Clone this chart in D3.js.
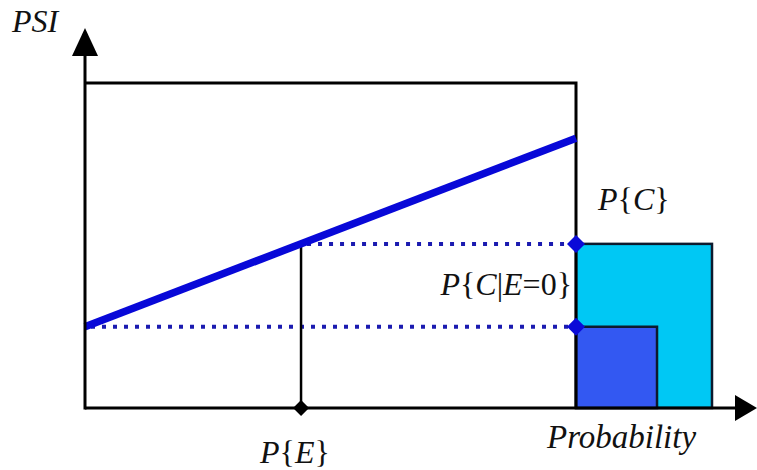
<!DOCTYPE html>
<html>
<head>
<meta charset="utf-8">
<script src="https://cdn.jsdelivr.net/npm/d3@7"></script>
<style>
  html, body { margin: 0; padding: 0; background: #fff; }
  svg { display: block; }
</style>
</head>
<body>
<svg id="chart" width="757" height="470"></svg>
<script>
// PSI as a linear function of the exposure probability P{E}
const lineProb = [0, 1];
const linePSI = [0.25, 0.83];

// marked probabilities
const pE = 0.44;          // P{E}
const pC = 0.505;         // P{C}  (PSI at P{E})
const pCgivenE0 = 0.25;   // P{C|E=0} (PSI at P{E}=0)

// probability bars drawn beside the plot box
const barNames = ["P{C}", "P{C|E=0}"];
const barHeights = [pC, pCgivenE0];
const barWidths = [0.277, 0.165];
const barColors = ["#00c8f4", "#3358f2"];

const serif = "'Liberation Serif', 'Times New Roman', Times, serif";

const svg = d3.select("#chart");

const x = d3.scaleLinear().domain([0, 1]).range([85, 576]);
const y = d3.scaleLinear().domain([0, 1]).range([408, 83]);

// bars (largest first so the smaller one sits on top)
svg.selectAll("rect.bar")
  .data(barNames.map((n, i) => ({ name: n, h: barHeights[i], w: barWidths[i], c: barColors[i] })))
  .join("rect")
  .attr("class", "bar")
  .attr("x", x(1))
  .attr("y", d => y(d.h))
  .attr("width", d => x(d.w) - x(0))
  .attr("height", d => y(0) - y(d.h))
  .attr("fill", d => d.c)
  .attr("stroke", "#0d1a2e")
  .attr("stroke-width", 2.5);

// plot box: top and right edges
svg.append("path")
  .attr("d", `M${x(0)},${y(1)} H${x(1)} V${y(0)}`)
  .attr("fill", "none")
  .attr("stroke", "#000")
  .attr("stroke-width", 3);

// dotted guides from the PSI line to the right edge
const dotted = [
  { from: pE, level: pC },
  { from: 0, level: pCgivenE0 }
];
svg.selectAll("line.guide")
  .data(dotted)
  .join("line")
  .attr("class", "guide")
  .attr("x1", d => x(d.from) + 6)
  .attr("x2", x(1))
  .attr("y1", d => y(d.level))
  .attr("y2", d => y(d.level))
  .attr("stroke", "#1b1bb0")
  .attr("stroke-width", 4)
  .attr("stroke-dasharray", "4 7");

// vertical drop from the line to P{E}
svg.append("line")
  .attr("x1", x(pE)).attr("x2", x(pE))
  .attr("y1", y(pC)).attr("y2", y(0))
  .attr("stroke", "#000")
  .attr("stroke-width", 2.5);

// PSI line
svg.append("path")
  .datum(lineProb.map((p, i) => [p, linePSI[i]]))
  .attr("d", d3.line().x(d => x(d[0])).y(d => y(d[1])))
  .attr("fill", "none")
  .attr("stroke", "#0808d8")
  .attr("stroke-width", 7.5);

// axes
svg.append("line")
  .attr("x1", x(0)).attr("x2", 740)
  .attr("y1", y(0)).attr("y2", y(0))
  .attr("stroke", "#000").attr("stroke-width", 3);
svg.append("line")
  .attr("x1", x(0)).attr("x2", x(0))
  .attr("y1", y(0) + 1.5).attr("y2", 50)
  .attr("stroke", "#000").attr("stroke-width", 3);

// arrow heads
svg.append("path")
  .attr("d", `M${x(0)},28 L${x(0) + 13},56 L${x(0) - 13},56 Z`)
  .attr("fill", "#000");
svg.append("path")
  .attr("d", `M757,${y(0)} L735,${y(0) - 13} L735,${y(0) + 13} Z`)
  .attr("fill", "#000");

// diamond markers
const diamonds = [
  { cx: x(1), cy: y(pC), r: 9, fill: "#0a0ad8" },
  { cx: x(1), cy: y(pCgivenE0), r: 9, fill: "#0a0ad8" },
  { cx: x(pE), cy: y(0), r: 8, fill: "#000" }
];
svg.selectAll("path.diamond")
  .data(diamonds)
  .join("path")
  .attr("class", "diamond")
  .attr("d", d => `M${d.cx},${d.cy - d.r} L${d.cx + d.r},${d.cy} L${d.cx},${d.cy + d.r} L${d.cx - d.r},${d.cy} Z`)
  .attr("fill", d => d.fill);

// labels built from italic / upright pieces
function label(parts, px, py, anchor, size) {
  const t = svg.append("text")
    .attr("x", px).attr("y", py)
    .attr("text-anchor", anchor)
    .attr("font-family", serif)
    .attr("font-size", size)
    .attr("fill", "#111");
  parts.forEach(([s, it]) => {
    t.append("tspan").text(s)
      .attr("font-family", serif)
      .attr("font-style", it ? "italic" : "normal");
  });
  return t;
}

label([["PSI", true]], 12, 32, "start", 32);
label([["Probability", true]], 547, 448, "start", 33);
label([["P", true], ["{", false], ["E", true], ["}", false]], 260, 463, "start", 32);
label([["P", true], ["{", false], ["C", true], ["}", false]], 598, 210, "start", 32);
label([["P", true], ["{", false], ["C", true], ["|", false], ["E", true], ["=0}", false]], 572, 295, "end", 32);
</script>
</body>
</html>
